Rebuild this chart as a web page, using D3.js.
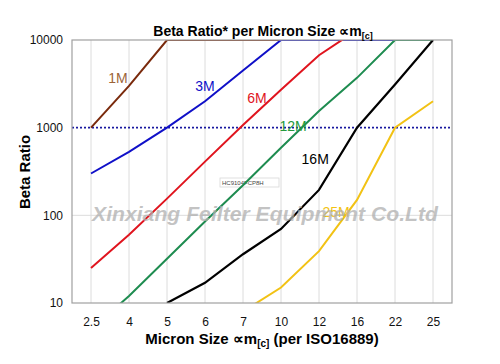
<!DOCTYPE html>
<html>
<head>
<meta charset="utf-8">
<script src="https://cdn.jsdelivr.net/npm/d3@7"></script>
<style>
  body { margin: 0; background: #fff; }
  svg { font-family: "Liberation Sans", Arial, sans-serif; }
</style>
</head>
<body>
<svg width="500" height="364"></svg>
<script>
// micron sizes (categories on x)
var cats = ["2.5", "4", "5", "6", "7", "10", "12", "16", "22", "25"];
var yTicks = [10, 100, 1000, 10000];

// beta ratio per filter grade, one value per category (null = no point)
var b1M  = [1000, 3000, 10000, 10000, 10000, 10000, null, null, null, null];
var b3M  = [300, 530, 1000, 2000, 4500, 10000, 10000, 10000, 10000, null];
var b6M  = [25, 60, 155, 410, 1070, 2700, 6700, 13000, null, null];
var b12M = [5, 12, 32, 85, 220, 590, 1550, 3700, 10000, 10000];
var b16M = [null, null, 10, 17, 36, 70, 195, 1000, 3100, 10000];
var b25M = [null, null, null, null, 8, 15, 39, 150, 1000, 2000];

var seriesNames = ["1M", "3M", "6M", "12M", "16M", "25M"];
var seriesVals = [b1M, b3M, b6M, b12M, b16M, b25M];
var lineColors = ["#7a2a0c", "#1010c8", "#e0141e", "#1e8c50", "#000000", "#f2c214"];
var labelColors = ["#9c6438", "#1010c8", "#e0141e", "#259a3c", "#000000", "#f2c214"];
// label anchor: [fractional category index, beta value]
var labelPos = [[0.71, 3700], [3.0, 3000], [4.37, 2170], [5.32, 1050], [5.9, 440], [6.45, 109]];

var svg = d3.select("svg");
var pL = 72, pR = 452, pT = 40, pB = 303;

var x = d3.scalePoint().domain(cats).range([pL, pR]).padding(0.5);
var y = d3.scaleLog().domain([10, 10000]).range([pB, pT]);
var step = x.step();
function xAt(i) { return x(cats[0]) + i * step; }

svg.append("clipPath").attr("id", "plotclip")
  .append("rect").attr("x", pL).attr("y", pT)
  .attr("width", pR - pL).attr("height", pB - pT);

// grid
svg.append("g").selectAll("line").data(cats).join("line")
  .attr("x1", function(d){ return x(d); }).attr("x2", function(d){ return x(d); })
  .attr("y1", pT).attr("y2", pB)
  .attr("stroke", "#dcdcdc").attr("stroke-width", 1);
svg.append("line")
  .attr("x1", pL).attr("x2", pR).attr("y1", y(100)).attr("y2", y(100))
  .attr("stroke", "#dcdcdc").attr("stroke-width", 1);

// little tag box
svg.append("rect").attr("x", 220).attr("y", 178).attr("width", 59).attr("height", 9)
  .attr("fill", "#fff").attr("stroke", "#d8d8d8").attr("stroke-width", 0.8);
svg.append("text").attr("x", 222).attr("y", 185)
  .attr("font-size", 6).attr("fill", "#444").text("HC9104FCP8H");

// 1000 reference line
svg.append("line")
  .attr("x1", pL).attr("x2", pR).attr("y1", y(1000)).attr("y2", y(1000))
  .attr("stroke", "#1a1aa0").attr("stroke-width", 1.6).attr("stroke-dasharray", "2,2");

// series lines
var line = d3.line()
  .defined(function(d){ return d != null; })
  .x(function(d, i){ return x(cats[i]); })
  .y(function(d){ return y(d); });

var g = svg.append("g").attr("clip-path", "url(#plotclip)");
seriesVals.forEach(function(vals, k){
  g.append("path")
    .attr("d", line(vals))
    .attr("fill", "none")
    .attr("stroke", lineColors[k])
    .attr("stroke-width", k == 4 ? 2.2 : 2);
});

// series labels
seriesNames.forEach(function(n, k){
  svg.append("text")
    .attr("x", xAt(labelPos[k][0]))
    .attr("y", y(labelPos[k][1]))
    .attr("dy", "0.35em")
    .attr("text-anchor", "middle")
    .attr("font-size", 14)
    .attr("fill", labelColors[k])
    .text(n);
});

// watermark
svg.append("text")
  .attr("x", 92).attr("y", 221)
  .attr("font-size", 21).attr("font-weight", "bold").attr("font-style", "italic")
  .attr("textLength", 346).attr("lengthAdjust", "spacingAndGlyphs")
  .attr("fill", "#b0b0b0").attr("fill-opacity", 0.75)
  .text("Xinxiang Feilter Equipment Co.Ltd");

// frame
svg.append("rect").attr("x", pL).attr("y", pT)
  .attr("width", pR - pL).attr("height", pB - pT)
  .attr("fill", "none").attr("stroke", "#a0a0a0").attr("stroke-width", 1.2);

// axes
var xAxis = svg.append("g").attr("transform", "translate(0," + pB + ")")
  .call(d3.axisBottom(x).tickSize(0).tickPadding(14));
var yAxis = svg.append("g").attr("transform", "translate(" + pL + ",0)")
  .call(d3.axisLeft(y).tickValues(yTicks).tickFormat(d3.format("d")).tickSize(0).tickPadding(9));
[xAxis, yAxis].forEach(function(a){
  a.select(".domain").remove();
  a.selectAll("text").attr("font-size", 12).attr("fill", "#111")
    .attr("font-family", "'Liberation Sans', Arial, sans-serif");
});

// titles
var t = svg.append("text").attr("x", 263).attr("y", 36)
  .attr("text-anchor", "middle").attr("font-size", 14).attr("font-weight", "bold");
t.append("tspan").text("Beta Ratio* per Micron Size \u221Dm");
t.append("tspan").attr("font-size", 9).attr("dy", 3).text("[c]");

var xt = svg.append("text").attr("x", 262).attr("y", 344)
  .attr("text-anchor", "middle").attr("font-size", 15).attr("font-weight", "bold");
xt.append("tspan").text("Micron Size \u221Dm");
xt.append("tspan").attr("font-size", 10).attr("dy", 3).text("[c]");
xt.append("tspan").attr("dy", -3).text(" (per ISO16889)");

svg.append("text")
  .attr("transform", "translate(30,172) rotate(-90)")
  .attr("text-anchor", "middle").attr("font-size", 15).attr("font-weight", "bold")
  .text("Beta Ratio");
</script>
</body>
</html>
